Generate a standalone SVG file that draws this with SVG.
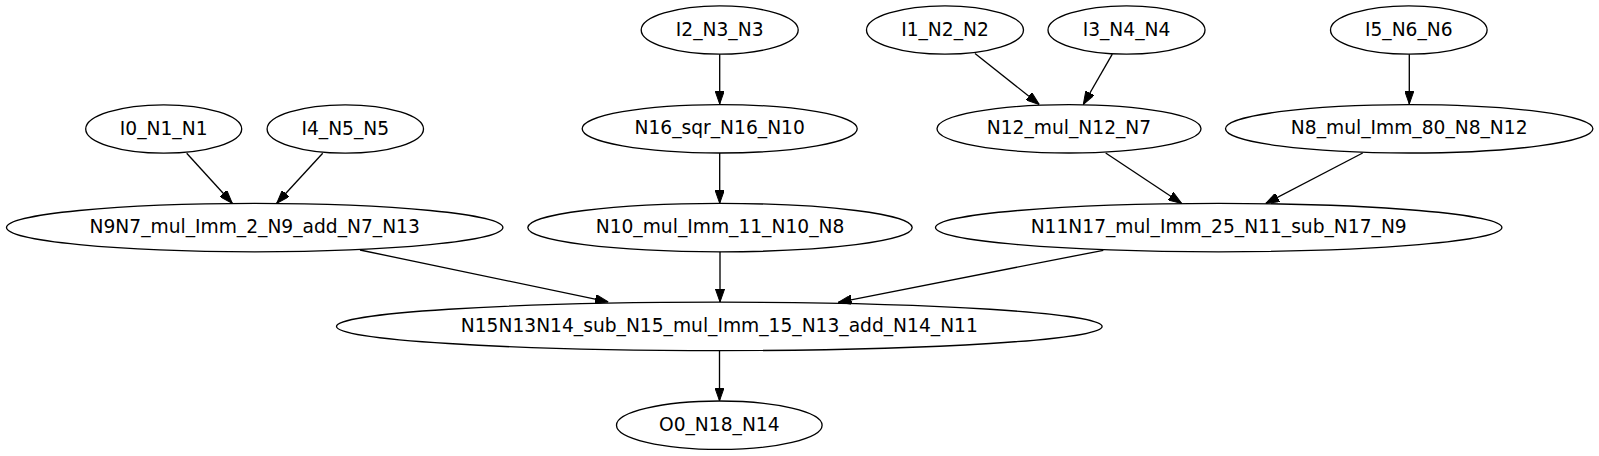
<svg xmlns="http://www.w3.org/2000/svg" width="1599" height="456" viewBox="0 0 1599 456">
<style>
.n ellipse{fill:none;stroke:#000;stroke-width:1.33}
.n text{font-family:"DejaVu Sans",sans-serif;font-size:18.67px;text-anchor:middle;fill:#000}
#edges line{stroke:#000;stroke-width:1.33;marker-end:url(#ah)}
</style>
<defs>
<marker id="ah" viewBox="0 0 13.3 9.4" refX="13.3" refY="4.7" markerWidth="13.3" markerHeight="9.4" markerUnits="userSpaceOnUse" orient="auto">
<path d="M0,0 L13.3,4.7 L0,9.4 z" fill="#000" stroke="#000" stroke-width="1"/>
</marker>
</defs>
<rect width="1599" height="456" fill="#fff"/>
<g id="edges">
<line x1="186.7" y1="153.3" x2="232.3" y2="203.3"/>
<line x1="322.7" y1="153.3" x2="276.7" y2="203.3"/>
<line x1="719.7" y1="54.2" x2="719.7" y2="104"/>
<line x1="975" y1="53.5" x2="1039.3" y2="104.5"/>
<line x1="1112.3" y1="54.2" x2="1083.3" y2="104.5"/>
<line x1="1409.3" y1="54.2" x2="1409.3" y2="104"/>
<line x1="719.7" y1="153" x2="719.7" y2="203.3"/>
<line x1="1105.7" y1="153" x2="1181.7" y2="203.5"/>
<line x1="1362.7" y1="153" x2="1265.7" y2="203.5"/>
<line x1="360" y1="250" x2="608.3" y2="301.9"/>
<line x1="720" y1="251.8" x2="720" y2="302"/>
<line x1="1103.3" y1="250.3" x2="838.3" y2="302.3"/>
<line x1="719.5" y1="350.6" x2="719.5" y2="400.8"/>
</g>
<g id="I0_N1_N1" class="n"><ellipse cx="163.7" cy="129" rx="78" ry="24.2"/><text x="163.7" y="134.6">I0_N1_N1</text></g>
<g id="I4_N5_N5" class="n"><ellipse cx="345.3" cy="129" rx="78.2" ry="24.2"/><text x="345.3" y="134.6">I4_N5_N5</text></g>
<g id="N9N7" class="n"><ellipse cx="254.7" cy="227.6" rx="248.2" ry="24.2"/><text x="254.7" y="233.2">N9N7_mul_Imm_2_N9_add_N7_N13</text></g>
<g id="I2_N3_N3" class="n"><ellipse cx="719.7" cy="30" rx="78.5" ry="24.2"/><text x="719.7" y="35.6">I2_N3_N3</text></g>
<g id="N16" class="n"><ellipse cx="719.7" cy="128.8" rx="137.5" ry="24.2"/><text x="719.7" y="134.4">N16_sqr_N16_N10</text></g>
<g id="N10" class="n"><ellipse cx="720" cy="227.6" rx="192.2" ry="24.2"/><text x="720" y="233.2">N10_mul_Imm_11_N10_N8</text></g>
<g id="I1_N2_N2" class="n"><ellipse cx="945" cy="30" rx="78.5" ry="24.2"/><text x="945" y="35.6">I1_N2_N2</text></g>
<g id="I3_N4_N4" class="n"><ellipse cx="1126.5" cy="30" rx="78.5" ry="24.2"/><text x="1126.5" y="35.6">I3_N4_N4</text></g>
<g id="N12" class="n"><ellipse cx="1069" cy="128.8" rx="132" ry="24.2"/><text x="1069" y="134.4">N12_mul_N12_N7</text></g>
<g id="I5_N6_N6" class="n"><ellipse cx="1408.8" cy="30" rx="78.3" ry="24.2"/><text x="1408.8" y="35.6">I5_N6_N6</text></g>
<g id="N8" class="n"><ellipse cx="1409.2" cy="128.8" rx="183.7" ry="24.2"/><text x="1409.2" y="134.4">N8_mul_Imm_80_N8_N12</text></g>
<g id="N11N17" class="n"><ellipse cx="1218.7" cy="227.6" rx="283.2" ry="24.2"/><text x="1218.7" y="233.2">N11N17_mul_Imm_25_N11_sub_N17_N9</text></g>
<g id="N15N13N14" class="n"><ellipse cx="719.3" cy="326.4" rx="382.8" ry="24.2"/><text x="719.3" y="332">N15N13N14_sub_N15_mul_Imm_15_N13_add_N14_N11</text></g>
<g id="O0_N18_N14" class="n"><ellipse cx="719.3" cy="425.2" rx="102.8" ry="24.2"/><text x="719.3" y="430.8">O0_N18_N14</text></g>
</svg>
